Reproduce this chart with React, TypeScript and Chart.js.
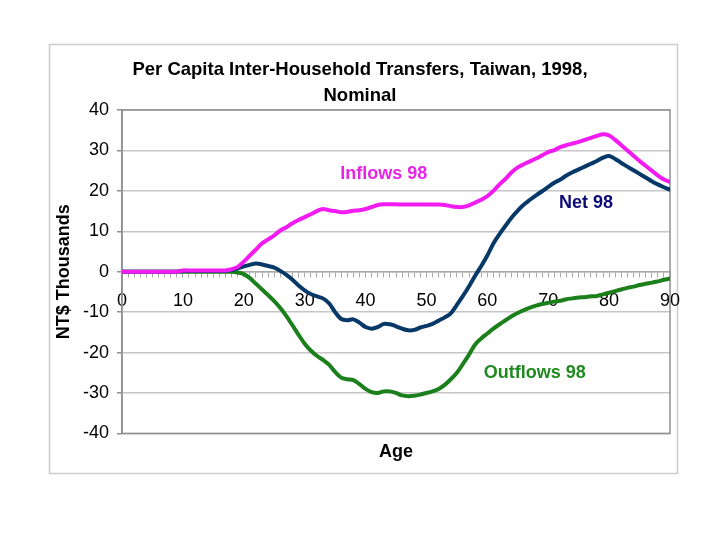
import React, { useEffect, useRef } from 'react';
import { Chart, registerables } from 'chart.js';

Chart.register(...registerables);

// Ages (x categories)
const ages = [
  0, 1, 2, 3, 4, 5, 6, 7, 8, 9,
  10, 11, 12, 13, 14, 15, 16, 17, 18, 19,
  20, 21, 22, 23, 24, 25, 26, 27, 28, 29,
  30, 31, 32, 33, 34, 35, 36, 37, 38, 39,
  40, 41, 42, 43, 44, 45, 46, 47, 48, 49,
  50, 51, 52, 53, 54, 55, 56, 57, 58, 59,
  60, 61, 62, 63, 64, 65, 66, 67, 68, 69,
  70, 71, 72, 73, 74, 75, 76, 77, 78, 79,
  80, 81, 82, 83, 84, 85, 86, 87, 88, 89,
  90,
];

// NT$ thousands
const inflows98 = [
  0, 0, 0, 0, 0, 0, 0, 0, 0, 0,
  0.3, 0.3, 0.3, 0.3, 0.3, 0.3, 0.3, 0.3, 0.6, 1.2,
  2.5, 4.0, 5.5, 7.0, 8.0, 9.0, 10.2, 11.0, 12.0, 12.8,
  13.5, 14.2, 15.0, 15.5, 15.2, 15.0, 14.7, 14.8, 15.1, 15.2,
  15.5, 16.0, 16.5, 16.7, 16.7, 16.7, 16.6, 16.6, 16.6, 16.6,
  16.6, 16.6, 16.6, 16.5, 16.2, 16.0, 16.0, 16.4, 17.1, 17.8,
  18.7, 20.0, 21.6, 23.0, 24.6, 25.8, 26.6, 27.3, 28.0, 28.8,
  29.6, 30.1, 30.8, 31.3, 31.7, 32.1, 32.6, 33.1, 33.6, 34.0,
  33.7, 32.6, 31.3, 30.0, 28.7, 27.4, 26.2, 25.0, 23.8, 22.8,
  22.2,
];

const net98 = [
  0, 0, 0, 0, 0, 0, 0, 0, 0, 0,
  0.2, 0.2, 0.2, 0.2, 0.2, 0.2, 0.2, 0.2, 0.4, 0.8,
  1.3, 1.7, 2.0, 1.8, 1.4, 1.0, 0.2, -0.8, -2.0, -3.4,
  -4.6, -5.5, -6.1, -6.6, -7.8, -10.0, -11.7, -12.0, -11.8, -12.6,
  -13.7, -14.1, -13.7, -12.9, -13.0, -13.5, -14.1, -14.5, -14.4, -13.8,
  -13.4, -12.9, -12.1, -11.3, -10.3, -8.2, -6.0, -3.6, -1.0, 1.4,
  4.0, 7.0, 9.3, 11.4, 13.4, 15.1, 16.6, 17.8, 18.9, 19.9,
  21.0, 22.0, 22.8, 23.8, 24.6, 25.3, 26.0, 26.7, 27.4, 28.2,
  28.6, 27.9, 26.9, 26.0, 25.1, 24.2, 23.3, 22.4, 21.6, 20.9,
  20.3,
];

const outflows98 = [
  0, 0, 0, 0, 0, 0, 0, 0, 0, 0,
  0, 0, 0, 0, 0, 0, 0, 0, 0, -0.2,
  -0.6, -1.6, -3.0, -4.4, -5.8, -7.3, -9.0, -11.0, -13.3, -15.6,
  -17.8, -19.5, -20.8, -21.8, -23.0, -24.8, -26.2, -26.6, -26.8, -27.8,
  -29.0, -29.8, -30.0, -29.6, -29.6, -30.0, -30.6, -30.8, -30.7, -30.4,
  -30.0, -29.6, -29.0, -28.0, -26.6, -25.0, -22.8, -20.5, -18.0, -16.5,
  -15.3, -14.1, -13.0, -12.0, -11.0, -10.2, -9.5, -8.9, -8.4, -8.0,
  -7.7, -7.4, -7.2, -6.8, -6.6, -6.4, -6.3, -6.1, -6.0, -5.6,
  -5.2, -4.8, -4.4, -4.0, -3.7, -3.3, -3.0, -2.7, -2.4, -2.0,
  -1.7,
];

const seriesNames = ['Inflows 98', 'Net 98', 'Outflows 98'];
const titleLines = ['Per Capita Inter-Household Transfers, Taiwan, 1998,', 'Nominal'];
const yTitle = 'NT$ Thousands';
const xTitle = 'Age';
const xLabelEvery = 10;

// in-chart series labels anchored in data space
const labelAges = [43, 76.2, 67.8];
const labelValues = [24.1, 17.0, -25.1];

const FONT = "'Liberation Sans', Arial, Helvetica, sans-serif";
const lineColors = ['#F21CF2', '#063868', '#1B801B'];
const labelColors = ['#E626E6', '#0B0B78', '#208A20'];

const decorPlugin = {
  id: 'decor',
  beforeDraw(chart: any) {
    const ctx = chart.ctx;
    ctx.save();
    ctx.fillStyle = '#ffffff';
    ctx.fillRect(0, 0, chart.width, chart.height);
    ctx.strokeStyle = '#cccccc';
    ctx.lineWidth = 1.5;
    ctx.strokeRect(49.5, 44.5, 628, 429);
    ctx.restore();
  },
  beforeDatasetsDraw(chart: any) {
    const { left, top, right, bottom } = chart.chartArea;
    const ctx = chart.ctx;
    ctx.save();
    ctx.strokeStyle = '#8f8f8f';
    ctx.lineWidth = 1.5;
    ctx.strokeRect(left, top, right - left, bottom - top);
    ctx.restore();
  },
  afterDatasetsDraw(chart: any) {
    const ctx = chart.ctx;
    const xs = chart.scales.x;
    const ys = chart.scales.y;
    ctx.save();
    ctx.font = `bold 18px ${FONT}`;
    ctx.textAlign = 'center';
    ctx.textBaseline = 'middle';
    seriesNames.forEach((name, i) => {
      ctx.fillStyle = labelColors[i];
      ctx.fillText(name, xs.getPixelForValue(labelAges[i]), ys.getPixelForValue(labelValues[i]));
    });
    ctx.restore();
  },
};

export default function App() {
  const ref = useRef<HTMLCanvasElement>(null);

  useEffect(() => {
    if (!ref.current) return;
    const series = [inflows98, net98, outflows98];
    const chart = new Chart(ref.current, {
      type: 'line',
      data: {
        datasets: series.map((vals, i) => ({
          label: seriesNames[i],
          data: ages.map((a, j) => ({ x: a, y: vals[j] })),
          borderColor: lineColors[i],
          backgroundColor: lineColors[i],
          borderWidth: 4,
          pointRadius: 0,
          tension: 0.35,
          fill: false,
          borderCapStyle: 'round',
          borderJoinStyle: 'round',
        })),
      },
      options: {
        animation: false,
        responsive: true,
        maintainAspectRatio: false,
        events: [],
        layout: { padding: { left: 50, right: 50, top: 0, bottom: 73 } },
        plugins: {
          legend: { display: false },
          tooltip: { enabled: false },
          title: {
            display: true,
            text: titleLines,
            color: '#000000',
            font: { family: FONT, size: 18.5, weight: 'bold', lineHeight: 26 / 18.5 },
            padding: { top: 57, bottom: 1 },
          },
        },
        scales: {
          x: {
            type: 'linear',
            min: 0,
            max: 90,
            position: { y: 0 } as any,
            grid: {
              display: true,
              drawOnChartArea: false,
              drawTicks: true,
              tickLength: 5,
              color: '#a8a8a8',
              lineWidth: 1,
            },
            border: { display: true, color: '#a8a8a8', width: 1.5 },
            ticks: {
              stepSize: 1,
              autoSkip: false,
              maxRotation: 0,
              minRotation: 0,
              padding: 14,
              color: '#000000',
              font: { family: FONT, size: 18 },
              callback: (v: any) => (Number(v) % xLabelEvery === 0 ? String(v) : ''),
            },
          },
          x2: {
            type: 'linear',
            position: 'bottom',
            min: 0,
            max: 90,
            grid: { display: false, drawTicks: false },
            border: { display: false },
            ticks: { display: false },
            title: {
              display: true,
              text: xTitle,
              color: '#000000',
              font: { family: FONT, size: 18, weight: 'bold' },
              padding: { top: 8, bottom: 4 },
            },
          },
          y: {
            type: 'linear',
            min: -40,
            max: 40,
            afterFit: (scale: any) => {
              scale.width = 72;
            },
            grid: {
              color: '#c6c6c6',
              lineWidth: 1.5,
              drawTicks: true,
              tickLength: 5,
              tickColor: '#8f8f8f',
            },
            border: { display: true, color: '#8f8f8f', width: 1.5 },
            ticks: {
              stepSize: 10,
              padding: 8,
              color: '#000000',
              font: { family: FONT, size: 18 },
            },
            title: {
              display: true,
              text: yTitle,
              color: '#000000',
              font: { family: FONT, size: 18, weight: 'bold' },
              padding: { top: 3, bottom: 0 },
            },
          },
        },
      },
      plugins: [decorPlugin],
    } as any);
    return () => chart.destroy();
  }, []);

  return (
    <div style={{ position: 'absolute', left: 0, top: 0, width: 720, height: 540 }}>
      <canvas ref={ref} />
    </div>
  );
}
